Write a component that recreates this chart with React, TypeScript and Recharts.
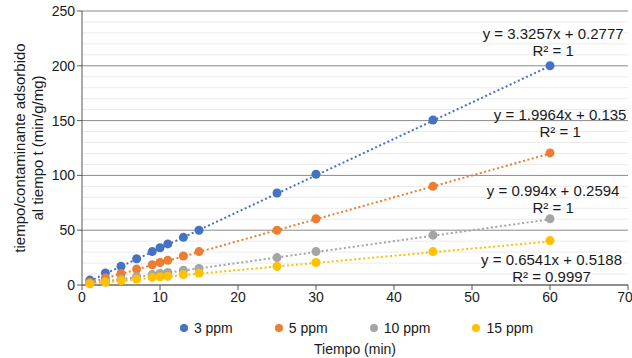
import * as React from "react";
import {
  ScatterChart,
  Scatter,
  XAxis,
  YAxis,
  CartesianGrid,
  ReferenceLine,
  ReferenceDot,
  Legend,
} from "recharts";

const FONT = '"Liberation Sans", Arial, sans-serif';

// Tiempo (min) for every series
const times = [1, 3, 5, 7, 9, 10, 11, 13, 15, 25, 30, 45, 60];

// t / qt
const ppm3 = [4.5, 11, 17, 24, 30.5, 34, 37.5, 43.5, 50, 84, 101, 150.5, 200];
const ppm5 = [2.5, 6.5, 10.5, 14.5, 18.5, 20.5, 22.5, 26.5, 30.5, 50, 60.5, 90, 120.5];
const ppm10 = [1.5, 3.5, 5.5, 7.5, 9.5, 10.5, 11.5, 13.5, 15, 25, 30.5, 45.5, 60.5];
const ppm15 = [1, 2.5, 4, 5.5, 7, 7.5, 8, 9.5, 11, 17, 20.5, 30.5, 40.5];

const names = ["3 ppm", "5 ppm", "10 ppm", "15 ppm"];
const colors = ["#4472C4", "#ED7D31", "#A5A5A5", "#FFC000"];

// linear trendlines shown on the chart
const slopes = [3.3257, 1.9964, 0.994, 0.6541];
const intercepts = [0.2777, 0.135, 0.2594, 0.5188];
const equations = [
  "y = 3.3257x + 0.2777",
  "y = 1.9964x + 0.135",
  "y = 0.994x + 0.2594",
  "y = 0.6541x + 0.5188",
];
const r2Labels = ["R² = 1", "R² = 1", "R² = 1", "R² = 0.9997"];
// where each equation block sits (data coords)
const labelX = [60.4, 61.3, 60.4, 60.2];
const labelY = [222.5, 148.3, 78.5, 16.4];

const xTicks = [0, 10, 20, 30, 40, 50, 60, 70];
const yTicks = [0, 50, 100, 150, 200, 250];
const yMinor = [10, 20, 30, 40, 60, 70, 80, 90, 110, 120, 130, 140, 160, 170, 180, 190, 210, 220, 230, 240];

const seriesValues = [ppm3, ppm5, ppm10, ppm15];

function toPoints(values: number[]) {
  return values.map((y, i) => ({ x: times[i], y }));
}

function trendPoints(i: number) {
  const x0 = times[0];
  const x1 = times[times.length - 1];
  return [
    { x: x0, y: slopes[i] * x0 + intercepts[i] },
    { x: x1, y: slopes[i] * x1 + intercepts[i] },
  ];
}

function YTitle(props: any) {
  const vb = props.viewBox || {};
  const cy = vb.height ? vb.y + vb.height / 2 : 148;
  return (
    <g fontSize={15} fill="#1a1a1a" fontFamily={FONT}>
      <text x={19} y={cy} transform={`rotate(-90, 19, ${cy})`} textAnchor="middle" dominantBaseline="central">
        tiempo/contaminante adsorbido
      </text>
      <text x={37} y={cy} transform={`rotate(-90, 37, ${cy})`} textAnchor="middle" dominantBaseline="central">
        al tiempo t (min/g/mg)
      </text>
    </g>
  );
}

function XTitle(props: any) {
  const vb = props.viewBox || {};
  return (
    <text x={vb.x + vb.width / 2} y={vb.y + 64} textAnchor="middle" dominantBaseline="central" fontSize={14} fill="#1a1a1a" fontFamily={FONT}>
      Tiempo (min)
    </text>
  );
}

function EquationLabel(i: number) {
  return (props: any) => {
    const vb = props.viewBox || {};
    const cx = vb.x + (vb.width || 0) / 2;
    const cy = vb.y + (vb.height || 0) / 2;
    return (
      <g fontFamily={FONT} fontSize={15} fill="#1a1a1a">
        <text x={cx} y={cy - 8} textAnchor="middle" dominantBaseline="central">
          {equations[i]}
        </text>
        <text x={cx} y={cy + 9} textAnchor="middle" dominantBaseline="central">
          {r2Labels[i]}
        </text>
      </g>
    );
  };
}

function LegendRow() {
  return (
    <div
      style={{
        height: 20,
        display: "flex",
        justifyContent: "center",
        alignItems: "center",
        paddingLeft: 85,
        fontFamily: FONT,
        fontSize: 14,
        color: "#1a1a1a",
      }}
    >
      {names.map((n, i) => (
        <div key={n} style={{ display: "flex", alignItems: "center", marginRight: i < names.length - 1 ? 42 : 0 }}>
          <span style={{ width: 8, height: 8, borderRadius: 4, background: colors[i], marginRight: 6 }} />
          <span>{n}</span>
        </div>
      ))}
    </div>
  );
}

export default function App() {
  return (
    <div style={{ position: "absolute", left: 0, top: 0, background: "#fff" }}>
      <ScatterChart width={632} height={358} margin={{ top: 11, right: 4, left: 0, bottom: 0 }}>
        {yMinor.map((v) => (
          <ReferenceLine key={v} y={v} stroke="#ebebeb" strokeWidth={1} />
        ))}
        <CartesianGrid vertical={false} stroke="#8a8a8a" strokeDasharray="" />
        <XAxis
          type="number"
          dataKey="x"
          domain={[0, 70]}
          ticks={xTicks}
          height={53}
          axisLine={{ stroke: "#595959" }}
          tickLine={{ stroke: "#595959" }}
          tickSize={5}
          tick={{ fontSize: 14, fill: "#1a1a1a", fontFamily: FONT }}
          label={{ content: XTitle }}
        />
        <YAxis
          type="number"
          dataKey="y"
          domain={[0, 250]}
          ticks={yTicks}
          width={82}
          axisLine={{ stroke: "#595959" }}
          tickLine={{ stroke: "#595959" }}
          tickSize={5}
          tick={{ fontSize: 14, fill: "#1a1a1a", fontFamily: FONT }}
          label={{ content: YTitle }}
        />
        <Legend verticalAlign="bottom" wrapperStyle={{ bottom: 20 }} content={LegendRow} />
        {seriesValues.map((vals, i) => (
          <Scatter
            key={"t" + i}
            name={names[i] + " trend"}
            data={trendPoints(i)}
            line={{ stroke: colors[i], strokeWidth: 2, strokeDasharray: "2 2.5" }}
            shape={() => <g />}
            legendType="none"
            isAnimationActive={false}
          />
        ))}
        {seriesValues.map((vals, i) => (
          <Scatter
            key={"s" + i}
            name={names[i]}
            data={toPoints(vals)}
            fill={colors[i]}
            shape="circle"
            isAnimationActive={false}
          />
        ))}
        {labelX.map((lx, i) => (
          <ReferenceDot
            key={"l" + i}
            x={lx}
            y={labelY[i]}
            r={0}
            fill="none"
            stroke="none"
            ifOverflow="visible"
            label={{ content: EquationLabel(i) }}
          />
        ))}
      </ScatterChart>
    </div>
  );
}
